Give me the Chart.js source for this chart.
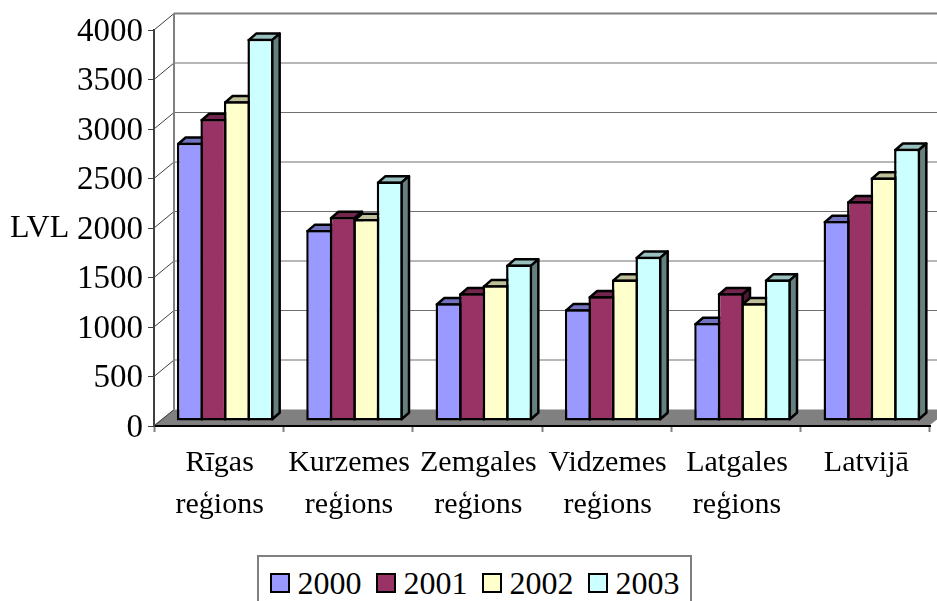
<!DOCTYPE html>
<html lang="lv">
<head>
<meta charset="utf-8">
<title>LVL</title>
<script src="https://cdn.jsdelivr.net/npm/chart.js@4"></script>
<style>
  html, body { margin: 0; padding: 0; background: #fff; overflow: hidden; width: 937px; height: 601px; }
  #wrap { position: relative; width: 937px; height: 601px; overflow: hidden; }
  canvas { display: block; }
  #legenda {
    position: absolute; left: 257px; top: 555px; width: 431px; height: 60px;
    border: 2px solid #808080; box-sizing: content-box; background: #fff;
    font: 32px "Liberation Serif", serif; color: #000;
  }
  #legenda .item { position: absolute; top: 8px; height: 36px; line-height: 36px; white-space: nowrap; }
  #legenda .box { position: absolute; left: 0; top: 8px; width: 16px; height: 16px; border: 2px solid #000; }
  #legenda .txt { position: absolute; left: 28px; top: 0; }
</style>
</head>
<body>
<div id="wrap">
  <canvas id="grafiks" width="937" height="601"></canvas>
  <div id="legenda"></div>
</div>
<script>
// DATI
const regioni = [["Rīgas", "reģions"], ["Kurzemes", "reģions"], ["Zemgales", "reģions"], ["Vidzemes", "reģions"], ["Latgales", "reģions"], ["Latvijā"]];
const gadi = ["2000", "2001", "2002", "2003"];
const dati2000 = [2810, 1930, 1190, 1130, 990, 2020];
const dati2001 = [3050, 2060, 1290, 1260, 1290, 2220];
const dati2002 = [3230, 2040, 1370, 1430, 1190, 2460];
const dati2003 = [3860, 2420, 1580, 1660, 1430, 2750];
const krasas = ["#9999FF", "#993366", "#FFFFCC", "#CCFFFF"];
const krasasAugsa = ["#7373BF", "#73264D", "#BFBF99", "#99BFBF"];
const krasasSans = ["#505080", "#4D1A33", "#808066", "#668080"];

// 3D izskats
const plakne = { dx: 6.5, dy: -5 };      // stabini stāv mazliet tālāk no ass
const stabDzilums = { dx: 7.5, dy: -6.5 };
const siena = { dx: 20, dy: -16.5 };
const apmale = 2.5;

function zimetSanus(chart) {
  const { ctx } = chart;
  const m = apmale / 2;
  ctx.save();
  ctx.translate(plakne.dx, plakne.dy);
  ctx.lineWidth = apmale;
  ctx.strokeStyle = '#000';
  ctx.lineJoin = 'round';
  // no kreisās uz labo, lai labais stabiņš pārklāj kreisā sānu
  regioni.forEach((_, k) => {
    gadi.forEach((_, i) => {
      const bar = chart.getDatasetMeta(i).data[k];
      const { x, y, base, width } = bar.getProps(['x', 'y', 'base', 'width']);
      const l = x - width / 2 + m, r = x + width / 2 - m, t = y + m, b = base - m;
      // augša
      ctx.fillStyle = krasasAugsa[i];
      ctx.beginPath();
      ctx.moveTo(l, t);
      ctx.lineTo(l + stabDzilums.dx, t + stabDzilums.dy);
      ctx.lineTo(r + stabDzilums.dx, t + stabDzilums.dy);
      ctx.lineTo(r, t);
      ctx.closePath();
      ctx.fill();
      ctx.stroke();
      // sāns
      ctx.fillStyle = krasasSans[i];
      ctx.beginPath();
      ctx.moveTo(r, t);
      ctx.lineTo(r + stabDzilums.dx, t + stabDzilums.dy);
      ctx.lineTo(r + stabDzilums.dx, b + stabDzilums.dy);
      ctx.lineTo(r, b);
      ctx.closePath();
      ctx.fill();
      ctx.stroke();
    });
  });
  ctx.restore();
}

const sienasPlugin = {
  id: 'sienas',
  beforeDatasetsDraw(chart) {
    const { ctx, chartArea: a, scales: { y } } = chart;
    const nulle = y.getPixelForValue(0);
    ctx.save();
    // grida
    ctx.fillStyle = '#808080';
    ctx.beginPath();
    ctx.moveTo(a.left, nulle - 1);
    ctx.lineTo(a.left + siena.dx, nulle + siena.dy);
    ctx.lineTo(a.right + siena.dx, nulle + siena.dy);
    ctx.lineTo(a.right, nulle - 1);
    ctx.closePath();
    ctx.fill();
    // sienas līnijas
    y.ticks.forEach(t => {
      const py = y.getPixelForValue(t.value);
      ctx.strokeStyle = '#404040';
      ctx.lineWidth = 1;
      ctx.beginPath();
      ctx.moveTo(a.left, py);
      ctx.lineTo(a.left + siena.dx, py + siena.dy);
      ctx.stroke();
      if (t.value > 0) {
        ctx.strokeStyle = t.value === 4000 ? '#808080' : '#707070';
        ctx.lineWidth = t.value === 4000 ? 2 : 1.2;
        ctx.beginPath();
        ctx.moveTo(a.left + siena.dx, py + siena.dy);
        ctx.lineTo(a.right + siena.dx, py + siena.dy);
        ctx.stroke();
      }
    });
    ctx.strokeStyle = '#808080';
    ctx.lineWidth = 2;
    ctx.beginPath();
    ctx.moveTo(a.left + siena.dx, a.top + siena.dy);
    ctx.lineTo(a.left + siena.dx, nulle + siena.dy);
    ctx.stroke();
    // ass nosaukums
    ctx.fillStyle = '#000';
    ctx.font = '32px "Liberation Serif"';
    ctx.textAlign = 'left';
    ctx.textBaseline = 'middle';
    ctx.fillText('LVL', 10, 229);
    ctx.restore();
    zimetSanus(chart);
  },
  beforeDatasetDraw(chart) {
    chart.ctx.save();
    chart.ctx.translate(plakne.dx, plakne.dy);
  },
  afterDatasetDraw(chart) {
    chart.ctx.restore();
  }
};

const rindas = [dati2000, dati2001, dati2002, dati2003];

new Chart(document.getElementById('grafiks'), {
  type: 'bar',
  data: {
    labels: regioni,
    datasets: rindas.map((d, i) => ({
      label: gadi[i],
      data: d,
      backgroundColor: krasas[i],
      borderColor: '#000',
      borderWidth: apmale,
      borderSkipped: false,
      categoryPercentage: 0.727,
      barPercentage: 1.106,
      clip: false
    }))
  },
  options: {
    responsive: false,
    animation: false,
    layout: { padding: { top: 30, right: 7, left: 0, bottom: 0 } },
    plugins: { legend: { display: false }, tooltip: { enabled: false } },
    scales: {
      x: {
        afterFit: s => { s.height = 175; },
        grid: { drawOnChartArea: false, drawTicks: true, tickLength: 6, tickColor: '#808080', tickWidth: 2 },
        border: { color: '#000', width: 2 },
        ticks: {
          autoSkip: false, maxRotation: 0, padding: 10, color: '#000', labelOffset: 1,
          font: { family: '"Liberation Serif"', size: 30, lineHeight: 1.4 }
        }
      },
      y: {
        min: 0, max: 4000,
        afterFit: s => { s.width = 154; },
        grid: { drawOnChartArea: false, drawTicks: true, tickLength: 6, tickColor: '#404040', tickWidth: 1 },
        border: { color: '#404040', width: 2 },
        ticks: {
          stepSize: 500, padding: 5, color: '#000', labelOffset: 2,
          callback: v => String(v),
          font: { family: '"Liberation Serif"', size: 33 }
        }
      }
    }
  },
  plugins: [sienasPlugin]
});

// LEĢENDA
const legenda = document.getElementById('legenda');
gadi.forEach((g, i) => {
  const item = document.createElement('div');
  item.className = 'item';
  item.style.left = (10.5 + i * 106) + 'px';
  item.innerHTML = `<span class="box" style="background:${krasas[i]}"></span><span class="txt">${g}</span>`;
  legenda.appendChild(item);
});
</script>
</body>
</html>
